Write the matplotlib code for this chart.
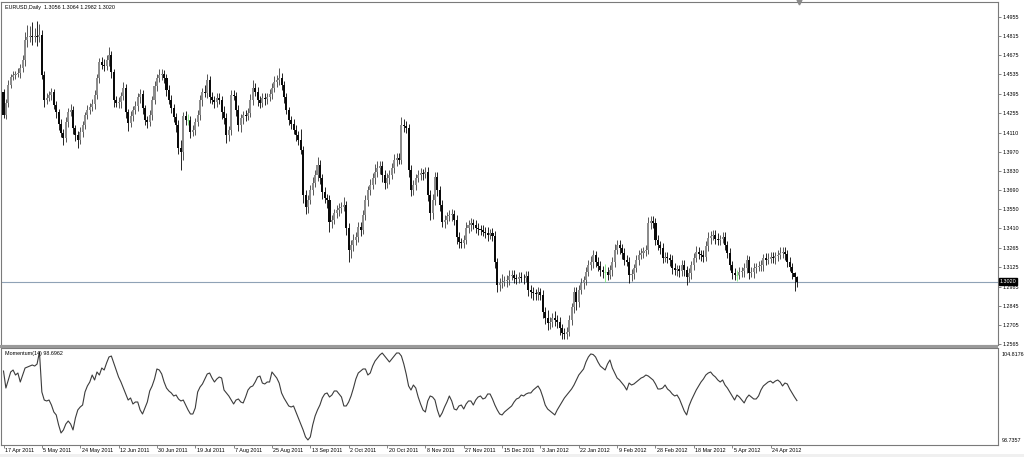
import numpy as np
import matplotlib
matplotlib.use('Agg')
import matplotlib.pyplot as plt
import matplotlib.transforms as mtransforms
from matplotlib.patches import Rectangle

plt.rcParams['font.family'] = ['Liberation Sans', 'DejaVu Sans']

title_text = 'EURUSD,Daily  1.3056 1.3064 1.2982 1.3020'
mom_title = 'Momentum(14) 98.6962'
bid_price = 1.3020
mom_max_label = 104.8176
mom_min_label = 93.7357

first_open = 1.4406

# daily closes, one per bar (open of a bar = previous close)
closes = [
    1.4238, 1.4326, 1.4458, 1.4516, 1.4531, 1.4538, 1.4545, 1.4582, 1.4640, 1.4787,
    1.4809, 1.4816, 1.4809, 1.4816, 1.4812, 1.4823, 1.4531, 1.4348, 1.4363, 1.4385,
    1.4406, 1.4311, 1.4260, 1.4173, 1.4107, 1.4070, 1.4187, 1.4260, 1.4275, 1.4143,
    1.4092, 1.4056, 1.4114, 1.4165, 1.4238, 1.4275, 1.4297, 1.4319, 1.4385, 1.4509,
    1.4626, 1.4604, 1.4597, 1.4640, 1.4677, 1.4553, 1.4348, 1.4326, 1.4333, 1.4377,
    1.4436, 1.4260, 1.4180, 1.4231, 1.4275, 1.4304, 1.4370, 1.4392, 1.4290, 1.4202,
    1.4187, 1.4238, 1.4348, 1.4450, 1.4509, 1.4531, 1.4538, 1.4509, 1.4421, 1.4348,
    1.4290, 1.4224, 1.4165, 1.3997, 1.3968, 1.4231, 1.4202, 1.4202, 1.4114, 1.4129,
    1.4187, 1.4238, 1.4348, 1.4406, 1.4399, 1.4494, 1.4370, 1.4348, 1.4333, 1.4363,
    1.4348, 1.4260, 1.4216, 1.4092, 1.4129, 1.4385, 1.4380, 1.4275, 1.4165, 1.4216,
    1.4238, 1.4231, 1.4253, 1.4348, 1.4436, 1.4406, 1.4348, 1.4326, 1.4363, 1.4355,
    1.4370, 1.4392, 1.4436, 1.4480, 1.4494, 1.4509, 1.4458, 1.4370, 1.4275, 1.4202,
    1.4173, 1.4129, 1.4092, 1.4056, 1.3983, 1.3654, 1.3566, 1.3617, 1.3690, 1.3741,
    1.3800, 1.3873, 1.3778, 1.3676, 1.3632, 1.3617, 1.3456, 1.3471, 1.3522, 1.3544,
    1.3559, 1.3566, 1.3580, 1.3412, 1.3252, 1.3288, 1.3325, 1.3347, 1.3420, 1.3398,
    1.3507, 1.3617, 1.3690, 1.3727, 1.3778, 1.3822, 1.3851, 1.3866, 1.3800, 1.3741,
    1.3778, 1.3800, 1.3851, 1.3909, 1.3924, 1.3909, 1.4165, 1.4158, 1.4143, 1.3836,
    1.3690, 1.3727, 1.3778, 1.3800, 1.3814, 1.3807, 1.3822, 1.3654, 1.3522, 1.3617,
    1.3785, 1.3690, 1.3580, 1.3456, 1.3471, 1.3500, 1.3507, 1.3515, 1.3471, 1.3347,
    1.3310, 1.3303, 1.3325, 1.3412, 1.3434, 1.3449, 1.3434, 1.3412, 1.3405, 1.3398,
    1.3383, 1.3376, 1.3361, 1.3376, 1.3354, 1.3164, 1.2996, 1.3010, 1.3018, 1.3025,
    1.3032, 1.3061, 1.3069, 1.3047, 1.3040, 1.3054, 1.3050, 1.3047, 1.3061, 1.2959,
    1.2944, 1.2937, 1.2930, 1.2944, 1.2922, 1.2798, 1.2754, 1.2718, 1.2725, 1.2754,
    1.2740, 1.2725, 1.2681, 1.2645, 1.2637, 1.2652, 1.2740, 1.2835, 1.2944, 1.2871,
    1.2959, 1.3010, 1.3032, 1.3091, 1.3142, 1.3164, 1.3215, 1.3164, 1.3135, 1.3105,
    1.3091, 1.3091, 1.3069, 1.3105, 1.3164, 1.3252, 1.3288, 1.3266, 1.3230, 1.3178,
    1.3164, 1.3069, 1.3076, 1.3120, 1.3178, 1.3215, 1.3230, 1.3244, 1.3252, 1.3449,
    1.3464, 1.3449, 1.3325, 1.3288, 1.3266, 1.3193, 1.3200, 1.3193, 1.3178, 1.3120,
    1.3105, 1.3110, 1.3100, 1.3142, 1.3105, 1.3054, 1.3083, 1.3142, 1.3193, 1.3237,
    1.3222, 1.3215, 1.3200, 1.3281, 1.3339, 1.3354, 1.3361, 1.3332, 1.3325, 1.3330,
    1.3347, 1.3288, 1.3230, 1.3142, 1.3083, 1.3069, 1.3069, 1.3091, 1.3098, 1.3120,
    1.3178, 1.3083, 1.3091, 1.3120, 1.3127, 1.3135, 1.3142, 1.3193, 1.3178, 1.3185,
    1.3200, 1.3193, 1.3208, 1.3215, 1.3230, 1.3237, 1.3222, 1.3164, 1.3127, 1.3083,
    1.3056, 1.3020,
]

# shadows in pips above max(open, close) and below min(open, close)
upper_pips = [
    25, 30, 35, 20, 30, 25, 40, 30, 35, 60, 90, 70, 100, 60, 110, 80, 40, 30, 35, 30,
    30, 25, 30, 25, 35, 30, 40, 30, 45, 30, 25, 30, 40, 30, 25, 35, 30, 40, 35, 30,
    30, 40, 45, 35, 60, 30, 25, 30, 35, 30, 45, 30, 25, 35, 30, 40, 30, 35, 30, 25,
    30, 35, 30, 40, 30, 45, 35, 30, 30, 35, 40, 30, 30, 35, 60, 30, 40, 45, 30, 35,
    30, 35, 40, 30, 50, 45, 30, 35, 30, 40, 35, 30, 45, 40, 30, 35, 40, 30, 35, 30,
    30, 40, 35, 45, 60, 40, 35, 30, 40, 35, 30, 40, 35, 45, 40, 70, 35, 30, 30, 25,
    30, 35, 40, 30, 80, 30, 40, 35, 40, 45, 40, 60, 35, 30, 40, 30, 35, 40, 30, 40,
    35, 40, 60, 30, 35, 40, 45, 35, 40, 35, 40, 35, 30, 45, 40, 55, 50, 40, 35, 40,
    40, 35, 40, 45, 40, 35, 60, 45, 40, 30, 35, 40, 30, 35, 40, 30, 35, 40, 35, 45,
    40, 35, 30, 40, 35, 30, 40, 35, 30, 35, 40, 30, 35, 45, 40, 35, 30, 35, 40, 30,
    35, 40, 45, 30, 35, 40, 30, 35, 60, 40, 35, 45, 35, 40, 30, 35, 40, 30, 35, 40,
    35, 40, 30, 35, 30, 40, 35, 60, 40, 35, 50, 40, 35, 30, 35, 40, 35, 30, 40, 35,
    35, 40, 30, 35, 40, 45, 40, 30, 35, 40, 30, 60, 35, 40, 35, 45, 40, 35, 30, 35,
    40, 35, 40, 30, 35, 40, 35, 30, 40, 45, 40, 35, 40, 35, 30, 40, 35, 40, 30, 35,
    40, 35, 30, 35, 40, 30, 35, 30, 40, 45, 35, 30, 35, 40, 45, 40, 35, 40, 45, 35,
    40, 35, 30, 35, 30, 35, 40, 35, 30, 35, 40, 30, 35, 40, 30, 35, 40, 30, 35, 45,
    35, 40, 30, 35, 45, 40, 35, 30, 35, 30, 10, 8,
]
lower_pips = [
    20, 25, 30, 25, 20, 30, 25, 35, 30, 40, 50, 40, 60, 40, 70, 40, 30, 50, 30, 25,
    35, 30, 40, 45, 30, 50, 30, 35, 30, 40, 45, 60, 30, 35, 30, 25, 30, 30, 35, 30,
    35, 30, 35, 30, 40, 45, 50, 30, 35, 40, 30, 40, 60, 30, 35, 30, 35, 40, 45, 35,
    40, 30, 35, 30, 35, 30, 40, 35, 45, 30, 35, 40, 50, 40, 130, 60, 40, 40, 45, 30,
    40, 30, 35, 40, 30, 35, 45, 30, 40, 35, 30, 50, 40, 60, 40, 35, 30, 45, 40, 50,
    40, 35, 30, 30, 35, 30, 40, 35, 30, 40, 35, 30, 35, 30, 40, 35, 40, 45, 30, 35,
    35, 30, 40, 35, 30, 60, 50, 40, 30, 35, 30, 40, 45, 50, 40, 60, 70, 40, 30, 35,
    40, 35, 30, 50, 90, 60, 45, 40, 35, 40, 30, 35, 40, 35, 30, 40, 35, 40, 50, 45,
    35, 40, 30, 35, 40, 30, 30, 40, 35, 50, 40, 35, 40, 30, 35, 40, 30, 45, 50, 40,
    35, 40, 45, 35, 40, 30, 35, 40, 35, 50, 45, 40, 35, 30, 35, 40, 30, 35, 40, 35,
    30, 35, 40, 30, 35, 45, 50, 40, 35, 30, 40, 35, 30, 35, 40, 30, 35, 40, 30, 45,
    40, 50, 45, 40, 35, 40, 45, 50, 40, 35, 40, 45, 50, 40, 35, 35, 30, 35, 40, 60,
    35, 30, 40, 35, 30, 35, 40, 35, 40, 45, 40, 70, 35, 30, 40, 35, 30, 40, 45, 35,
    30, 60, 40, 35, 30, 35, 30, 40, 35, 30, 40, 35, 40, 35, 40, 35, 30, 35, 40, 45,
    35, 40, 45, 35, 40, 60, 35, 40, 35, 30, 35, 40, 35, 30, 35, 40, 30, 35, 40, 35,
    30, 35, 40, 35, 40, 35, 40, 30, 35, 40, 35, 45, 30, 40, 35, 30, 35, 40, 35, 30,
    30, 35, 40, 35, 30, 35, 40, 35, 30, 40, 100, 38,
]

# Momentum(14), one value per bar
momentum = [
    102.42, 100.28, 101.29, 102.30, 102.55, 101.92, 102.17, 101.04, 101.92, 102.80,
    102.93, 103.05, 103.18, 103.05, 103.30, 104.82, 99.78, 98.77, 98.65, 98.77,
    98.14, 97.26, 96.89, 95.63, 94.62, 95.00, 95.75, 96.13, 95.75, 95.00,
    96.51, 97.52, 97.89, 98.14, 99.78, 100.54, 101.04, 101.92, 101.29, 102.30,
    101.92, 102.80, 102.55, 103.43, 104.19, 104.31, 103.43, 102.55, 101.67, 101.04,
    100.28, 99.53, 98.77, 99.03, 98.27, 98.52, 98.52, 97.52, 97.01, 97.77,
    98.52, 99.91, 100.54, 101.42, 102.68, 102.55, 102.05, 101.04, 100.28, 99.91,
    99.66, 99.28, 99.40, 98.90, 98.65, 98.77, 98.14, 97.52, 97.01, 97.01,
    97.77, 99.78, 100.41, 100.79, 101.42, 102.05, 102.17, 101.54, 101.04, 101.42,
    101.67, 101.54, 100.03, 99.66, 99.28, 98.77, 98.27, 98.77, 98.90, 98.52,
    98.40, 99.15, 100.03, 100.41, 100.54, 101.04, 101.67, 101.79, 100.91, 100.79,
    101.04, 101.04, 102.30, 101.92, 101.54, 100.91, 99.66, 99.03, 98.52, 98.02,
    97.89, 98.02, 97.26, 96.51, 95.75, 95.00, 94.12, 93.74, 94.12, 95.63,
    96.76, 97.52, 98.14, 99.03, 99.53, 99.66, 99.15, 99.40, 99.91, 99.91,
    99.53, 99.15, 98.02, 98.02, 98.52, 99.28, 100.28, 101.42, 102.17, 102.42,
    102.68, 102.68, 101.92, 102.17, 103.05, 103.68, 104.06, 104.44, 104.69, 104.31,
    103.93, 103.56, 103.93, 104.31, 104.69, 104.69, 104.31, 103.31, 102.05, 100.54,
    100.03, 100.66, 100.28, 99.15, 98.27, 97.52, 97.26, 98.65, 99.28, 99.15,
    98.77, 97.52, 96.63, 97.14, 97.89, 98.52, 99.28, 98.65, 97.64, 97.52,
    98.02, 98.14, 97.64, 98.27, 98.65, 98.65, 98.14, 98.77, 99.15, 99.28,
    98.90, 99.03, 99.53, 99.53, 98.90, 98.14, 97.52, 97.01, 96.89, 97.26,
    97.52, 97.77, 98.02, 98.52, 98.90, 99.03, 99.40, 99.28, 99.53, 99.66,
    99.66, 100.03, 100.28, 100.54, 100.03, 99.15, 98.14, 97.64, 97.39, 97.14,
    96.89, 97.52, 98.02, 98.52, 99.03, 99.40, 99.78, 100.16, 100.66, 101.29,
    101.92, 102.30, 102.68, 103.56, 104.19, 104.57, 104.50, 104.19, 103.56, 103.05,
    102.80, 102.55, 103.31, 103.81, 102.80, 102.17, 101.54, 101.29, 100.91, 100.54,
    100.03, 100.91, 100.66, 100.79, 101.04, 101.29, 101.54, 101.67, 101.92, 101.79,
    101.54, 101.29, 100.79, 100.16, 100.16, 100.28, 100.66, 100.16, 99.91, 99.53,
    99.28, 99.40, 98.90, 98.14, 97.39, 96.89, 98.02, 98.77, 99.40, 100.03,
    100.54, 101.04, 101.42, 101.92, 102.17, 102.30, 101.92, 101.67, 101.29, 101.04,
    101.29, 100.66, 100.28, 99.78, 99.28, 98.77, 99.40, 99.15, 98.77, 98.40,
    99.03, 99.40, 99.15, 98.90, 98.90, 99.28, 100.03, 100.54, 100.79, 101.04,
    101.16, 100.91, 101.16, 101.29, 101.04, 100.54, 100.91, 100.79, 100.16, 99.66,
    99.15, 98.6962,
]

price_ticks = [1.4955, 1.4815, 1.4675, 1.4535, 1.4395, 1.4255, 1.4110, 1.3970, 1.3830,
               1.3690, 1.3550, 1.3410, 1.3265, 1.3125, 1.2985, 1.2845, 1.2705, 1.2565]

date_labels = ['17 Apr 2011', '5 May 2011', '24 May 2011', '12 Jun 2011', '30 Jun 2011',
               '19 Jul 2011', '7 Aug 2011', '25 Aug 2011', '13 Sep 2011', '2 Oct 2011',
               '20 Oct 2011', '8 Nov 2011', '27 Nov 2011', '15 Dec 2011', '3 Jan 2012',
               '22 Jan 2012', '9 Feb 2012', '28 Feb 2012', '18 Mar 2012', '5 Apr 2012',
               '24 Apr 2012']
date_step = 16

# ---------------------------------------------------------------
W, H = 1024, 457
fig = plt.figure(figsize=(W / 100, H / 100), dpi=100)
fig.patch.set_facecolor('white')


def box(x0, y0, x1, y1):
    return [x0 / W, 1 - y1 / H, (x1 - x0) / W, (y1 - y0) / H]


ax = fig.add_axes(box(1, 2, 998, 345))
ax2 = fig.add_axes(box(1, 348, 998, 445))

n = len(closes)
idx = np.arange(n)
c = np.array(closes)
o = np.array([first_open] + closes[:-1])
hi = np.maximum(o, c) + np.array(upper_pips) / 10000.0
lo = np.minimum(o, c) - np.array(lower_pips) / 10000.0

doji = np.abs(c - o) < 1e-9
bull = (c > o) & ~doji

wick_col = np.where(doji, '#7be87b', np.where(bull, '#3a3a3a', '#000000'))
ax.vlines(idx, lo, hi, colors=wick_col, linewidth=0.6, zorder=2)
body_col = np.where(bull, '#8c8c8c', '#0a0a0a')
ax.bar(idx[~doji], np.abs(c - o)[~doji], bottom=np.minimum(o, c)[~doji],
       width=0.85, color=body_col[~doji], linewidth=0, zorder=3)
ax.hlines(c[doji], idx[doji] - 0.45, idx[doji] + 0.45, colors='#7be87b', linewidth=0.6, zorder=3)

ax.axhline(bid_price, color='#8fa2b6', linewidth=0.8, zorder=1)

# axis scaling: 1.4955 at y=17px, 1.2565 at y=344px
ppu = (344 - 17) / (1.4955 - 1.2565)
ax.set_ylim(1.2565 - 1 / ppu, 1.4955 + 15 / ppu)
x_left = (1 - 3.5) / 2.397
x_right = (998 - 3.5) / 2.397
ax.set_xlim(x_left, x_right)
ax2.set_xlim(x_left, x_right)

mpu = (440 - 352) / (mom_max_label - mom_min_label)
ax2.set_ylim(mom_min_label - 5 / mpu, mom_max_label + 4 / mpu)
ax2.plot(idx, momentum, color='#3c3c3c', linewidth=0.8)

for a in (ax, ax2):
    for s in a.spines.values():
        s.set_color('#7a7a7a')
        s.set_linewidth(0.8)

ax.yaxis.tick_right()
ax.set_yticks(price_ticks)
ax.set_yticklabels(['%.4f' % p for p in price_ticks], fontsize=3.9)
ax.tick_params(axis='y', direction='out', length=2, width=0.5, pad=1.5, color='#555555')
ax.set_xticks([])

ax2.set_yticks([])
ax2.set_xticks(idx[::date_step][:len(date_labels)])
ax2.set_xticklabels(date_labels, fontsize=3.9, ha='left')
ax2.tick_params(axis='x', direction='out', length=2.2, width=0.5, pad=0.3, color='#555555')
for lab in ax2.get_xticklabels():
    lab.set_transform(lab.get_transform() + mtransforms.ScaledTranslation(1.5 / 100, 0, fig.dpi_scale_trans))

# texts
ax.text(4 / 997, 1 - 6 / 343, title_text, transform=ax.transAxes, fontsize=3.9,
        ha='left', va='center')
ax2.text(4 / 997, 1 - 5 / 97, mom_title, transform=ax2.transAxes, fontsize=3.9,
         ha='left', va='center')

tr = mtransforms.blended_transform_factory(ax.transAxes, ax.transData)
ax.text(1.0015, bid_price, '%.4f' % bid_price, transform=tr, fontsize=3.9, color='white',
        ha='left', va='center', zorder=10,
        bbox=dict(boxstyle='square,pad=0.15', facecolor='black', edgecolor='black'))

tr2 = mtransforms.blended_transform_factory(ax2.transAxes, ax2.transData)
ax2.text(1.004, mom_max_label, '%.4f' % mom_max_label, transform=tr2, fontsize=3.9,
         ha='left', va='top')
ax2.text(1.004, mom_min_label, '%.4f' % mom_min_label, transform=tr2, fontsize=3.9,
         ha='left', va='center')

# shift marker at the top and the panel separator
ax.plot([n - 0.3], [1.0], marker='v', markersize=3.5, color='#8a8a8a',
        transform=mtransforms.blended_transform_factory(ax.transData, ax.transAxes),
        clip_on=False, zorder=5)
fig.patches.append(Rectangle((0, 1 - 348 / H), 998 / W, 3 / H, transform=fig.transFigure,
                             facecolor='#9a9a9a', edgecolor='none'))
fig.patches.append(Rectangle((0, 0), 1, 3 / H, transform=fig.transFigure,
                             facecolor='#f0f0f0', edgecolor='none', zorder=-1))

fig.savefig('out.png', dpi=100, facecolor='white')
